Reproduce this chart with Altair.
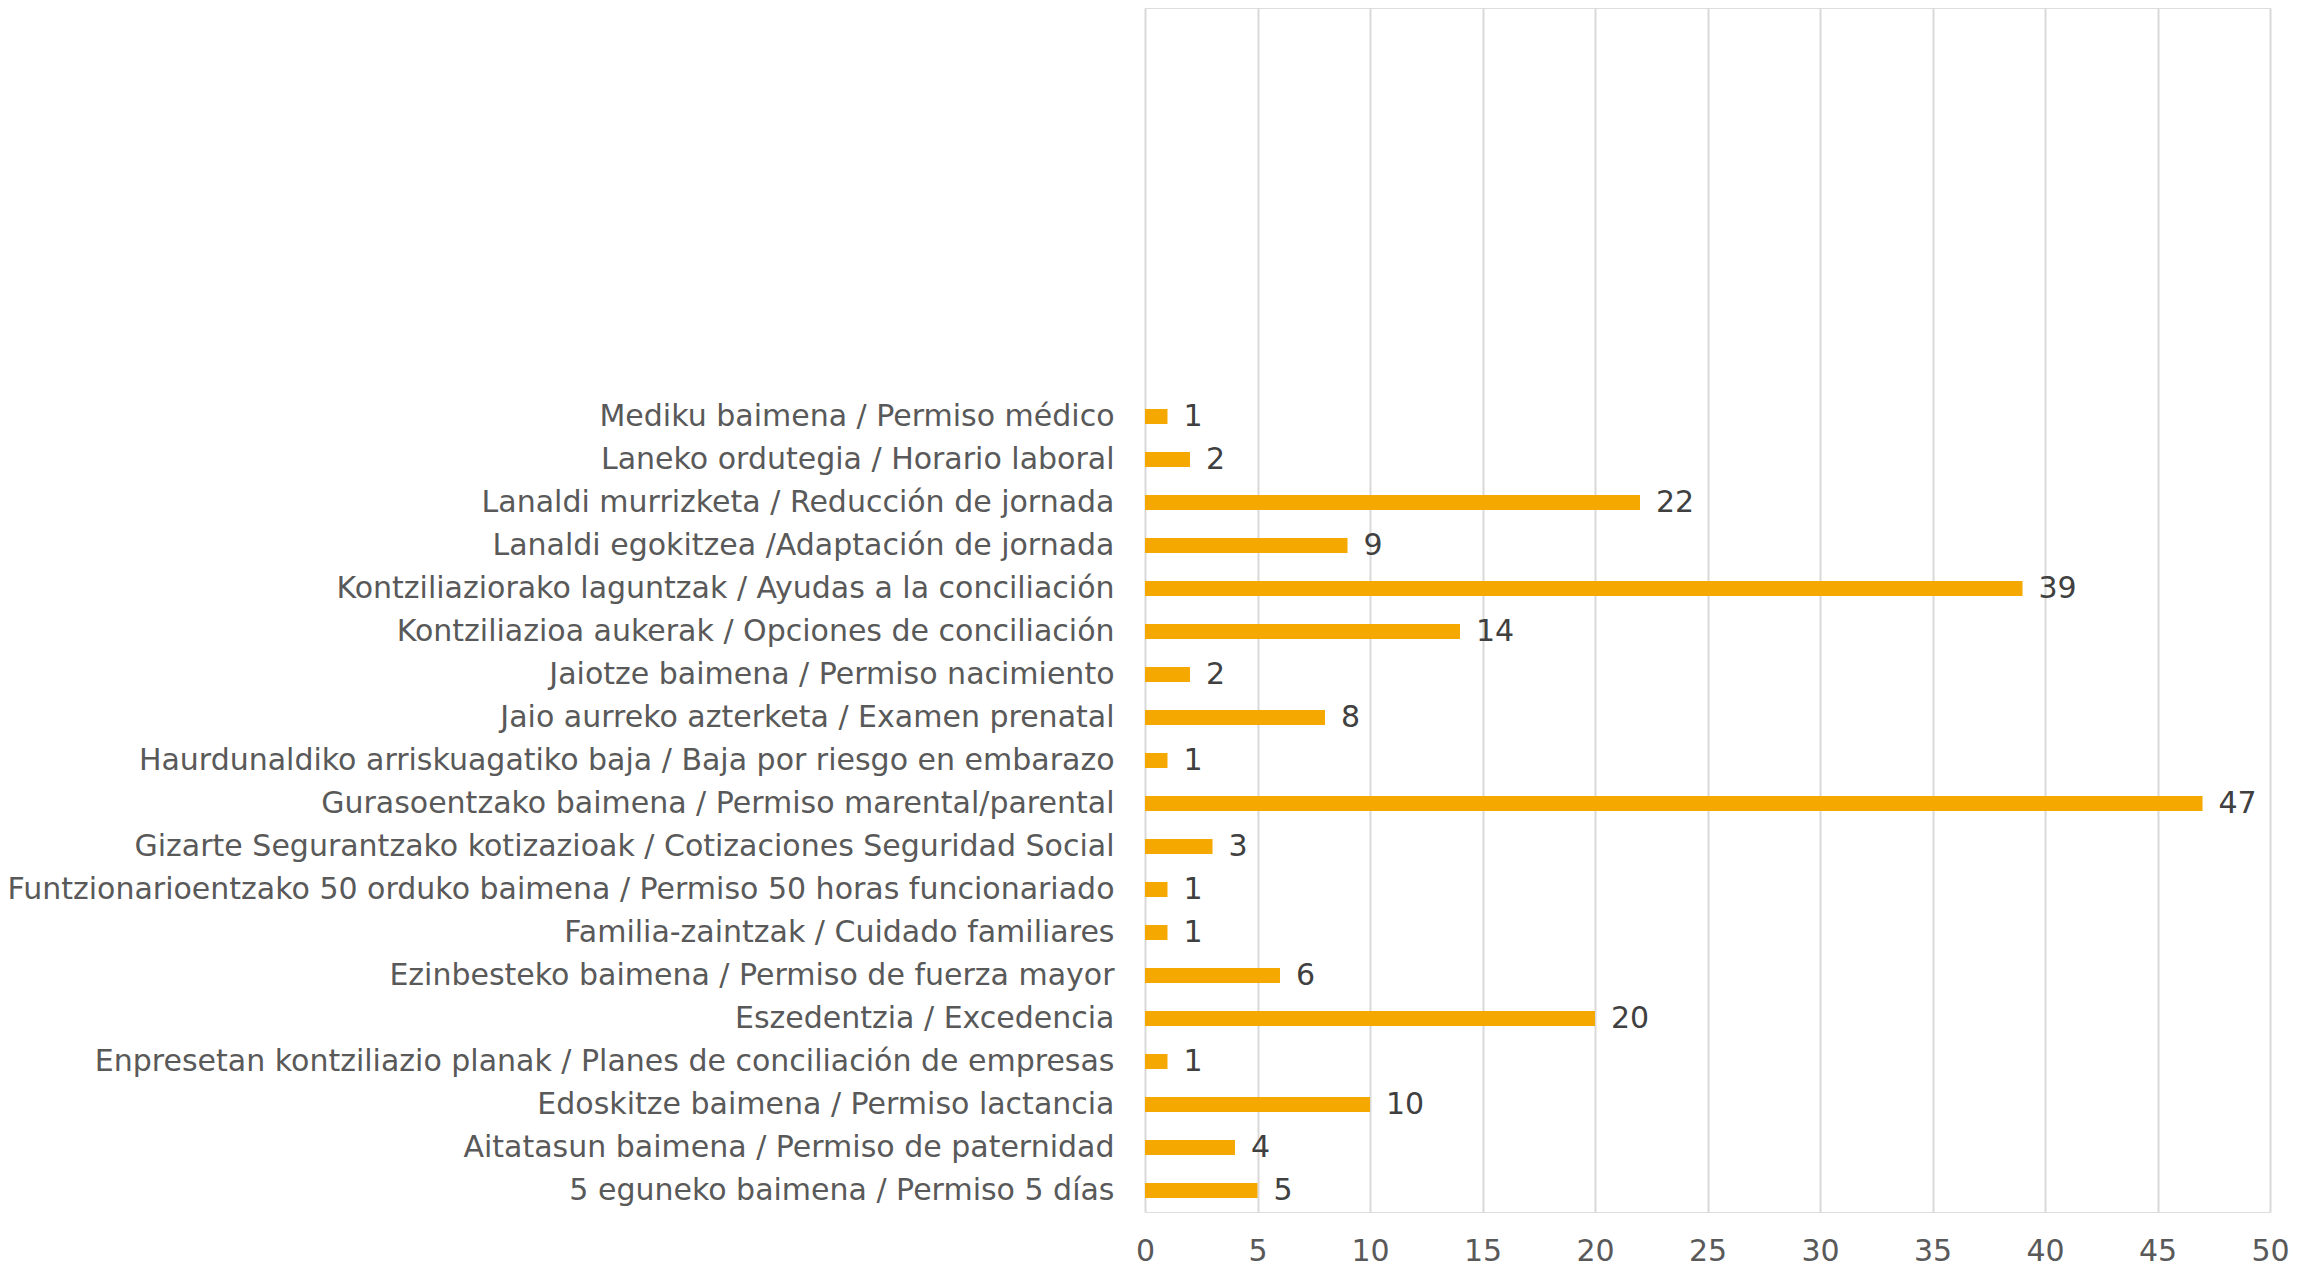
import altair as alt
import pandas as pd

categories = [
    "Mediku baimena / Permiso médico",
    "Laneko ordutegia / Horario laboral",
    "Lanaldi murrizketa / Reducción de jornada",
    "Lanaldi egokitzea /Adaptación de jornada",
    "Kontziliaziorako laguntzak / Ayudas a la conciliación",
    "Kontziliazioa aukerak / Opciones de conciliación",
    "Jaiotze baimena / Permiso nacimiento",
    "Jaio aurreko azterketa / Examen prenatal",
    "Haurdunaldiko arriskuagatiko baja / Baja por riesgo en embarazo",
    "Gurasoentzako baimena / Permiso marental/parental",
    "Gizarte Segurantzako kotizazioak / Cotizaciones Seguridad Social",
    "Funtzionarioentzako 50 orduko baimena / Permiso 50 horas funcionariado",
    "Familia-zaintzak / Cuidado familiares",
    "Ezinbesteko baimena / Permiso de fuerza mayor",
    "Eszedentzia / Excedencia",
    "Enpresetan kontziliazio planak / Planes de conciliación de empresas",
    "Edoskitze baimena / Permiso lactancia",
    "Aitatasun baimena / Permiso de paternidad",
    "5 eguneko baimena / Permiso 5 días",
]
values = [1, 2, 22, 9, 39, 14, 2, 8, 1, 47, 3, 1, 1, 6, 20, 1, 10, 4, 5]

# empty category slots at the top of the axis (as in the original chart)
blank_slots = [" " * (i + 1) for i in range(9)]

df = pd.DataFrame({"cat": categories, "val": values})
domain = blank_slots + categories

FONT = "DejaVu Sans"
GREY = "#595959"

y = alt.Y("cat:N", sort=domain, scale=alt.Scale(domain=domain, paddingInner=0.65, paddingOuter=0.325), title=None,
          axis=alt.Axis(labelFontSize=30, labelColor=GREY, labelFont=FONT, ticks=False, domain=False,
                        labelPadding=31, labelLimit=1300))
x = alt.X("val:Q", scale=alt.Scale(domain=[0, 50]), title=None,
          axis=alt.Axis(values=list(range(0, 51, 5)), labelFontSize=30, labelColor=GREY, labelFont=FONT,
                        ticks=False, domain=False, grid=True, gridColor="#D9D9D9", gridWidth=2,
                        labelPadding=24, labelFlush=False))

bars = alt.Chart(df).mark_bar(color="#F5A800").encode(x=x, y=y)
text = alt.Chart(df).mark_text(align="left", baseline="middle", dx=16, fontSize=30, font=FONT,
                               color="#404040").encode(x="val:Q", y=alt.Y("cat:N", sort=domain), text="val:Q")

chart = (bars + text).properties(
    width=1125, height=1204,
    autosize=alt.AutoSizeParams(type="none"),
    padding={"left": 1137, "top": 0, "right": 40, "bottom": 58},
).configure_view(stroke=None).configure(background="white")

chart.save("out.html", embed_options={"renderer": "svg", "actions": False})
